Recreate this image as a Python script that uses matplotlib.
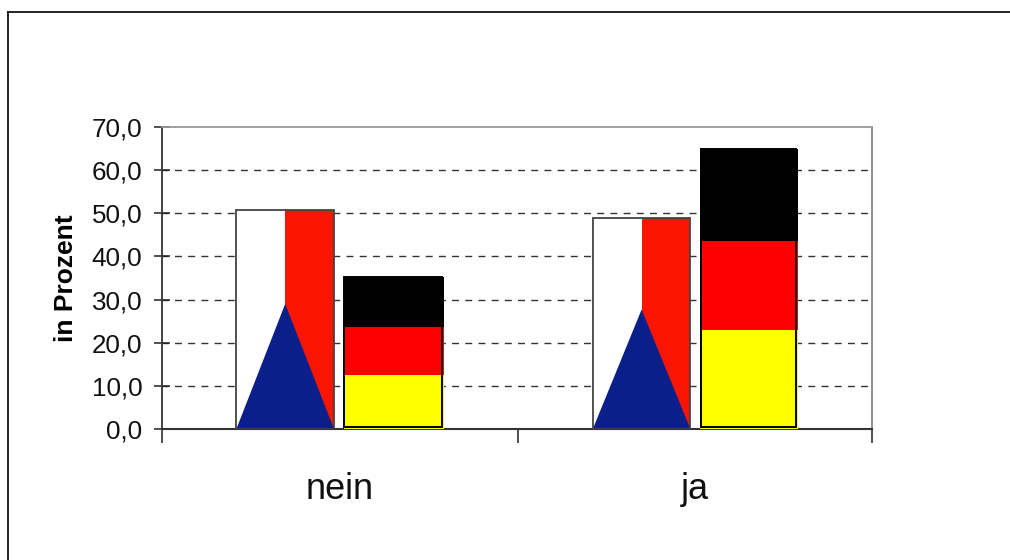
import matplotlib
matplotlib.use('Agg')
import matplotlib.pyplot as plt
from matplotlib.lines import Line2D
from matplotlib.patches import Rectangle

# Daten
kategorien = ['nein', 'ja']
y_ticks = [0, 10, 20, 30, 40, 50, 60, 70]
tschechien = [50.8, 49.0]
tschechien_spitze = [29.0, 27.7]
gelb = [12.5, 23.0]
rot = [11.2, 20.6]
schwarz = [11.6, 21.4]

plt.rcParams['font.family'] = ['Liberation Sans']

fig = plt.figure(figsize=(10.1, 5.6), dpi=100)
ax = fig.add_axes([162 / 1010, 1 - 429 / 560, 710 / 1010, 302 / 560])

# Rahmen: nur links und oben sichtbar
rand_x = 8 / 1010
rand_y = 1 - 11.5 / 560
fig.add_artist(Line2D([rand_x, rand_x], [0, rand_y], color='#111111', linewidth=1.3))
fig.add_artist(Line2D([rand_x, 1], [rand_y, rand_y], color='#111111', linewidth=1.3))

breite = 0.275
breite_de = [0.282, 0.276]
abstand = 0.153

for i in range(len(kategorien)):
    # Flagge Tschechien: links weiss, rechts rot, unten blaues Dreieck
    x1 = i + 0.5 - abstand + i * 0.004
    h = tschechien[i]
    ax.bar(x1 - breite / 4, h, breite / 2, color='white', zorder=3)
    ax.bar(x1 + breite / 4, h, breite / 2, color='#fb1400', zorder=3)
    ax.fill([x1 - breite / 2, x1, x1 + breite / 2], [0, tschechien_spitze[i], 0],
            color='#0a1f8a', linewidth=0, zorder=4)
    ax.add_patch(Rectangle((x1 - breite / 2, 0), breite, h, fill=False,
                           edgecolor='#444444', linewidth=1.3, zorder=5))

    # Flagge Deutschland: gestapelt
    x2 = i + 0.5 + abstand
    b = breite_de[i]
    ax.bar(x2, gelb[i], b, color='#ffff00', zorder=3)
    ax.bar(x2, rot[i], b, bottom=gelb[i], color='#ff0000', zorder=3)
    ax.bar(x2, schwarz[i], b, bottom=gelb[i] + rot[i], color='black', zorder=3)
    ax.add_patch(Rectangle((x2 - b / 2 + 0.002, 0.4), b - 0.008, gelb[i] + rot[i] + schwarz[i] - 0.4,
                           fill=False, edgecolor='black', linewidth=1.4, zorder=5))

ax.set_xlim(0, 2)
ax.set_ylim(0, 70)
ax.set_yticks(y_ticks)
ax.set_yticklabels([f'{v:.1f}'.replace('.', ',') for v in y_ticks], fontsize=18.7, color='#111111')
ax.set_xticks([0, 1.003, 2])
ax.set_xticklabels([])
ax.tick_params(axis='y', direction='inout', length=11.5, width=1.1, color='#222222', pad=8.5)
ax.tick_params(axis='x', length=10, width=1.2, color='#333333')
ax.get_xticklines()[4].set_color('#777777')

for i, name in enumerate(kategorien):
    ax.text(i + 0.5, -10, name, ha='center', va='top', fontsize=26, color='#111111', clip_on=False)

ax.set_ylabel('in Prozent', fontsize=19, fontweight='bold', labelpad=10, y=0.5)
ax.yaxis.grid(True, linestyle=(0.5, (5, 4.5)), color='#333333', linewidth=1.0, zorder=1)
ax.set_axisbelow(True)
ax.yaxis.get_gridlines()[0].set_visible(False)
ax.yaxis.get_gridlines()[-1].set_visible(False)

ax.spines['left'].set_color('#333333')
ax.spines['left'].set_linewidth(1.3)
ax.spines['bottom'].set_color('#333333')
ax.spines['bottom'].set_linewidth(1.5)
ax.spines['top'].set_color('#999999')
ax.spines['right'].set_color('#888888')
ax.spines['top'].set_linewidth(1.3)
ax.spines['right'].set_linewidth(1.3)

fig.savefig('out.png', dpi=100)
